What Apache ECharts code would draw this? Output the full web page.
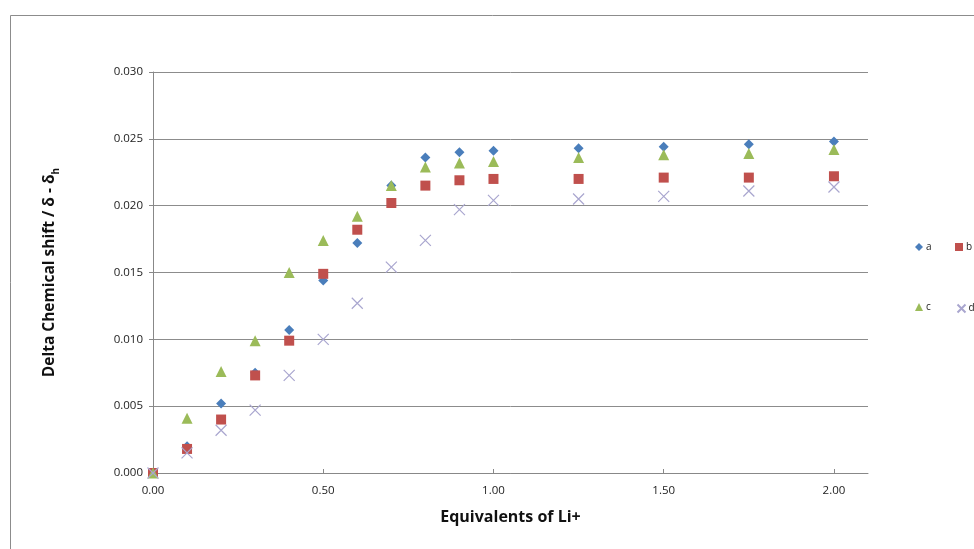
<!DOCTYPE html>
<html>
<head>
<meta charset="utf-8">
<script src="https://cdn.jsdelivr.net/npm/echarts@6/dist/echarts.min.js"></script>
<style>html,body{margin:0;padding:0;background:#fff}#c{width:974px;height:549px}</style>
</head>
<body>
<div id="c"></div>
<script>
var xVals = [0, 0.1, 0.2, 0.3, 0.4, 0.5, 0.6, 0.7, 0.8, 0.9, 1.0, 1.25, 1.5, 1.75, 2.0];
var seriesA = [0.0000, 0.0020, 0.0052, 0.0075, 0.0107, 0.0144, 0.0172, 0.0215, 0.0236, 0.0240, 0.0241, 0.0243, 0.0244, 0.0246, 0.0248];
var seriesB = [0.0000, 0.0018, 0.0040, 0.0073, 0.0099, 0.0149, 0.0182, 0.0202, 0.0215, 0.0219, 0.0220, 0.0220, 0.0221, 0.0221, 0.0222];
var seriesC = [0.0000, 0.0041, 0.0076, 0.0099, 0.0150, 0.0174, 0.0192, 0.0215, 0.0229, 0.0232, 0.0233, 0.0236, 0.0238, 0.0239, 0.0242];
var seriesD = [0.0000, 0.0015, 0.0032, 0.0047, 0.0073, 0.0100, 0.0127, 0.0154, 0.0174, 0.0197, 0.0204, 0.0205, 0.0207, 0.0211, 0.0214];
var names = ['a', 'b', 'c', 'd'];
var colors = ['#4a7ebb', '#c0504d', '#9bbb59', '#a9a6cf'];
var xTicks = ['0.00', '0.50', '1.00', '1.50', '2.00'];

function pairs(ys) { return xVals.map(function (x, i) { return [x, ys[i]]; }); }
var crossPath = 'path://M0,0 L10,10 M10,0 L0,10';
var FONT = '"Open Sans", "Noto Sans", sans-serif';

var chart = echarts.init(document.getElementById('c'));
function legendAt(name, left, top, icon) {
  return {
    data: [{ name: name, icon: icon }],
    left: left, top: top, orient: 'horizontal',
    itemWidth: 8, itemHeight: 8, itemGap: 2,
    textStyle: { fontFamily: FONT, fontSize: 10, color: '#222', padding: [0, 0, 0, -2] },
    selectedMode: false
  };
}
chart.setOption({
  animation: false,
  backgroundColor: '#fff',
  graphic: [{
    type: 'rect', shape: { x: 10.5, y: 15.5, width: 1000, height: 600 },
    style: { fill: 'none', stroke: '#8c8c8c', lineWidth: 1 }, silent: true, z: -10
  }],
  grid: { left: 153, top: 72, right: 106, bottom: 76, containLabel: false },
  legend: [
    legendAt('a', 910, 237, 'diamond'),
    legendAt('b', 950, 237, 'rect'),
    legendAt('c', 910, 297, 'triangle'),
    legendAt('d', 950, 297, crossPath)
  ],
  xAxis: {
    type: 'value', min: 0, max: 2.1, interval: 0.5,
    name: 'Equivalents of Li+', nameLocation: 'middle', nameGap: 36,
    nameTextStyle: { fontFamily: FONT, fontSize: 16, fontWeight: 'bold', color: '#111' },
    axisLine: { show: true, lineStyle: { color: '#888', width: 1 } },
    axisTick: { show: true, inside: true, length: 4, lineStyle: { color: '#888' } },
    splitLine: { show: false },
    axisLabel: {
      fontFamily: FONT, fontSize: 11.5, color: '#222', margin: 12, showMaxLabel: false,
      formatter: function (v) { var k = Math.round(v / 0.5); return Math.abs(v - k * 0.5) < 1e-9 ? xTicks[k] : ''; }
    }
  },
  yAxis: {
    type: 'value', min: 0, max: 0.03, interval: 0.005,
    name: '{m|Delta Chemical shift / δ - δ}{s|h}', nameLocation: 'middle', nameGap: 92, nameRotate: 90,
    nameTextStyle: {
      rich: {
        m: { fontFamily: FONT, fontSize: 15.5, fontWeight: 'bold', color: '#111', lineHeight: 22, verticalAlign: 'middle' },
        s: { fontFamily: FONT, fontSize: 10, fontWeight: 'bold', color: '#111', lineHeight: 22, verticalAlign: 'bottom', padding: [7, 0, 0, 0] }
      }
    },
    axisLine: { show: true, lineStyle: { color: '#888', width: 1 } },
    axisTick: { show: true, inside: false, length: 4, lineStyle: { color: '#888' } },
    splitLine: { show: true, lineStyle: { color: '#8c8c8c', width: 1 } },
    axisLabel: { fontFamily: FONT, fontSize: 11.5, color: '#222', margin: 10, formatter: function (v) { return v.toFixed(3); } }
  },
  series: [
    { name: 'a', type: 'scatter', data: pairs(seriesA), symbol: 'diamond', symbolSize: 10, itemStyle: { color: colors[0], opacity: 1 }, z: 2 },
    { name: 'b', type: 'scatter', data: pairs(seriesB), symbol: 'rect', symbolSize: 10, itemStyle: { color: colors[1], opacity: 1 }, z: 3 },
    { name: 'c', type: 'scatter', data: pairs(seriesC), symbol: 'triangle', symbolSize: 11, itemStyle: { color: colors[2], opacity: 1 }, z: 4 },
    { name: 'd', type: 'scatter', data: pairs(seriesD), symbol: crossPath, symbolSize: 11,
      itemStyle: { color: 'none', borderColor: colors[3], borderWidth: 1.2, opacity: 1 }, z: 5 }
  ]
});
</script>
</body>
</html>
